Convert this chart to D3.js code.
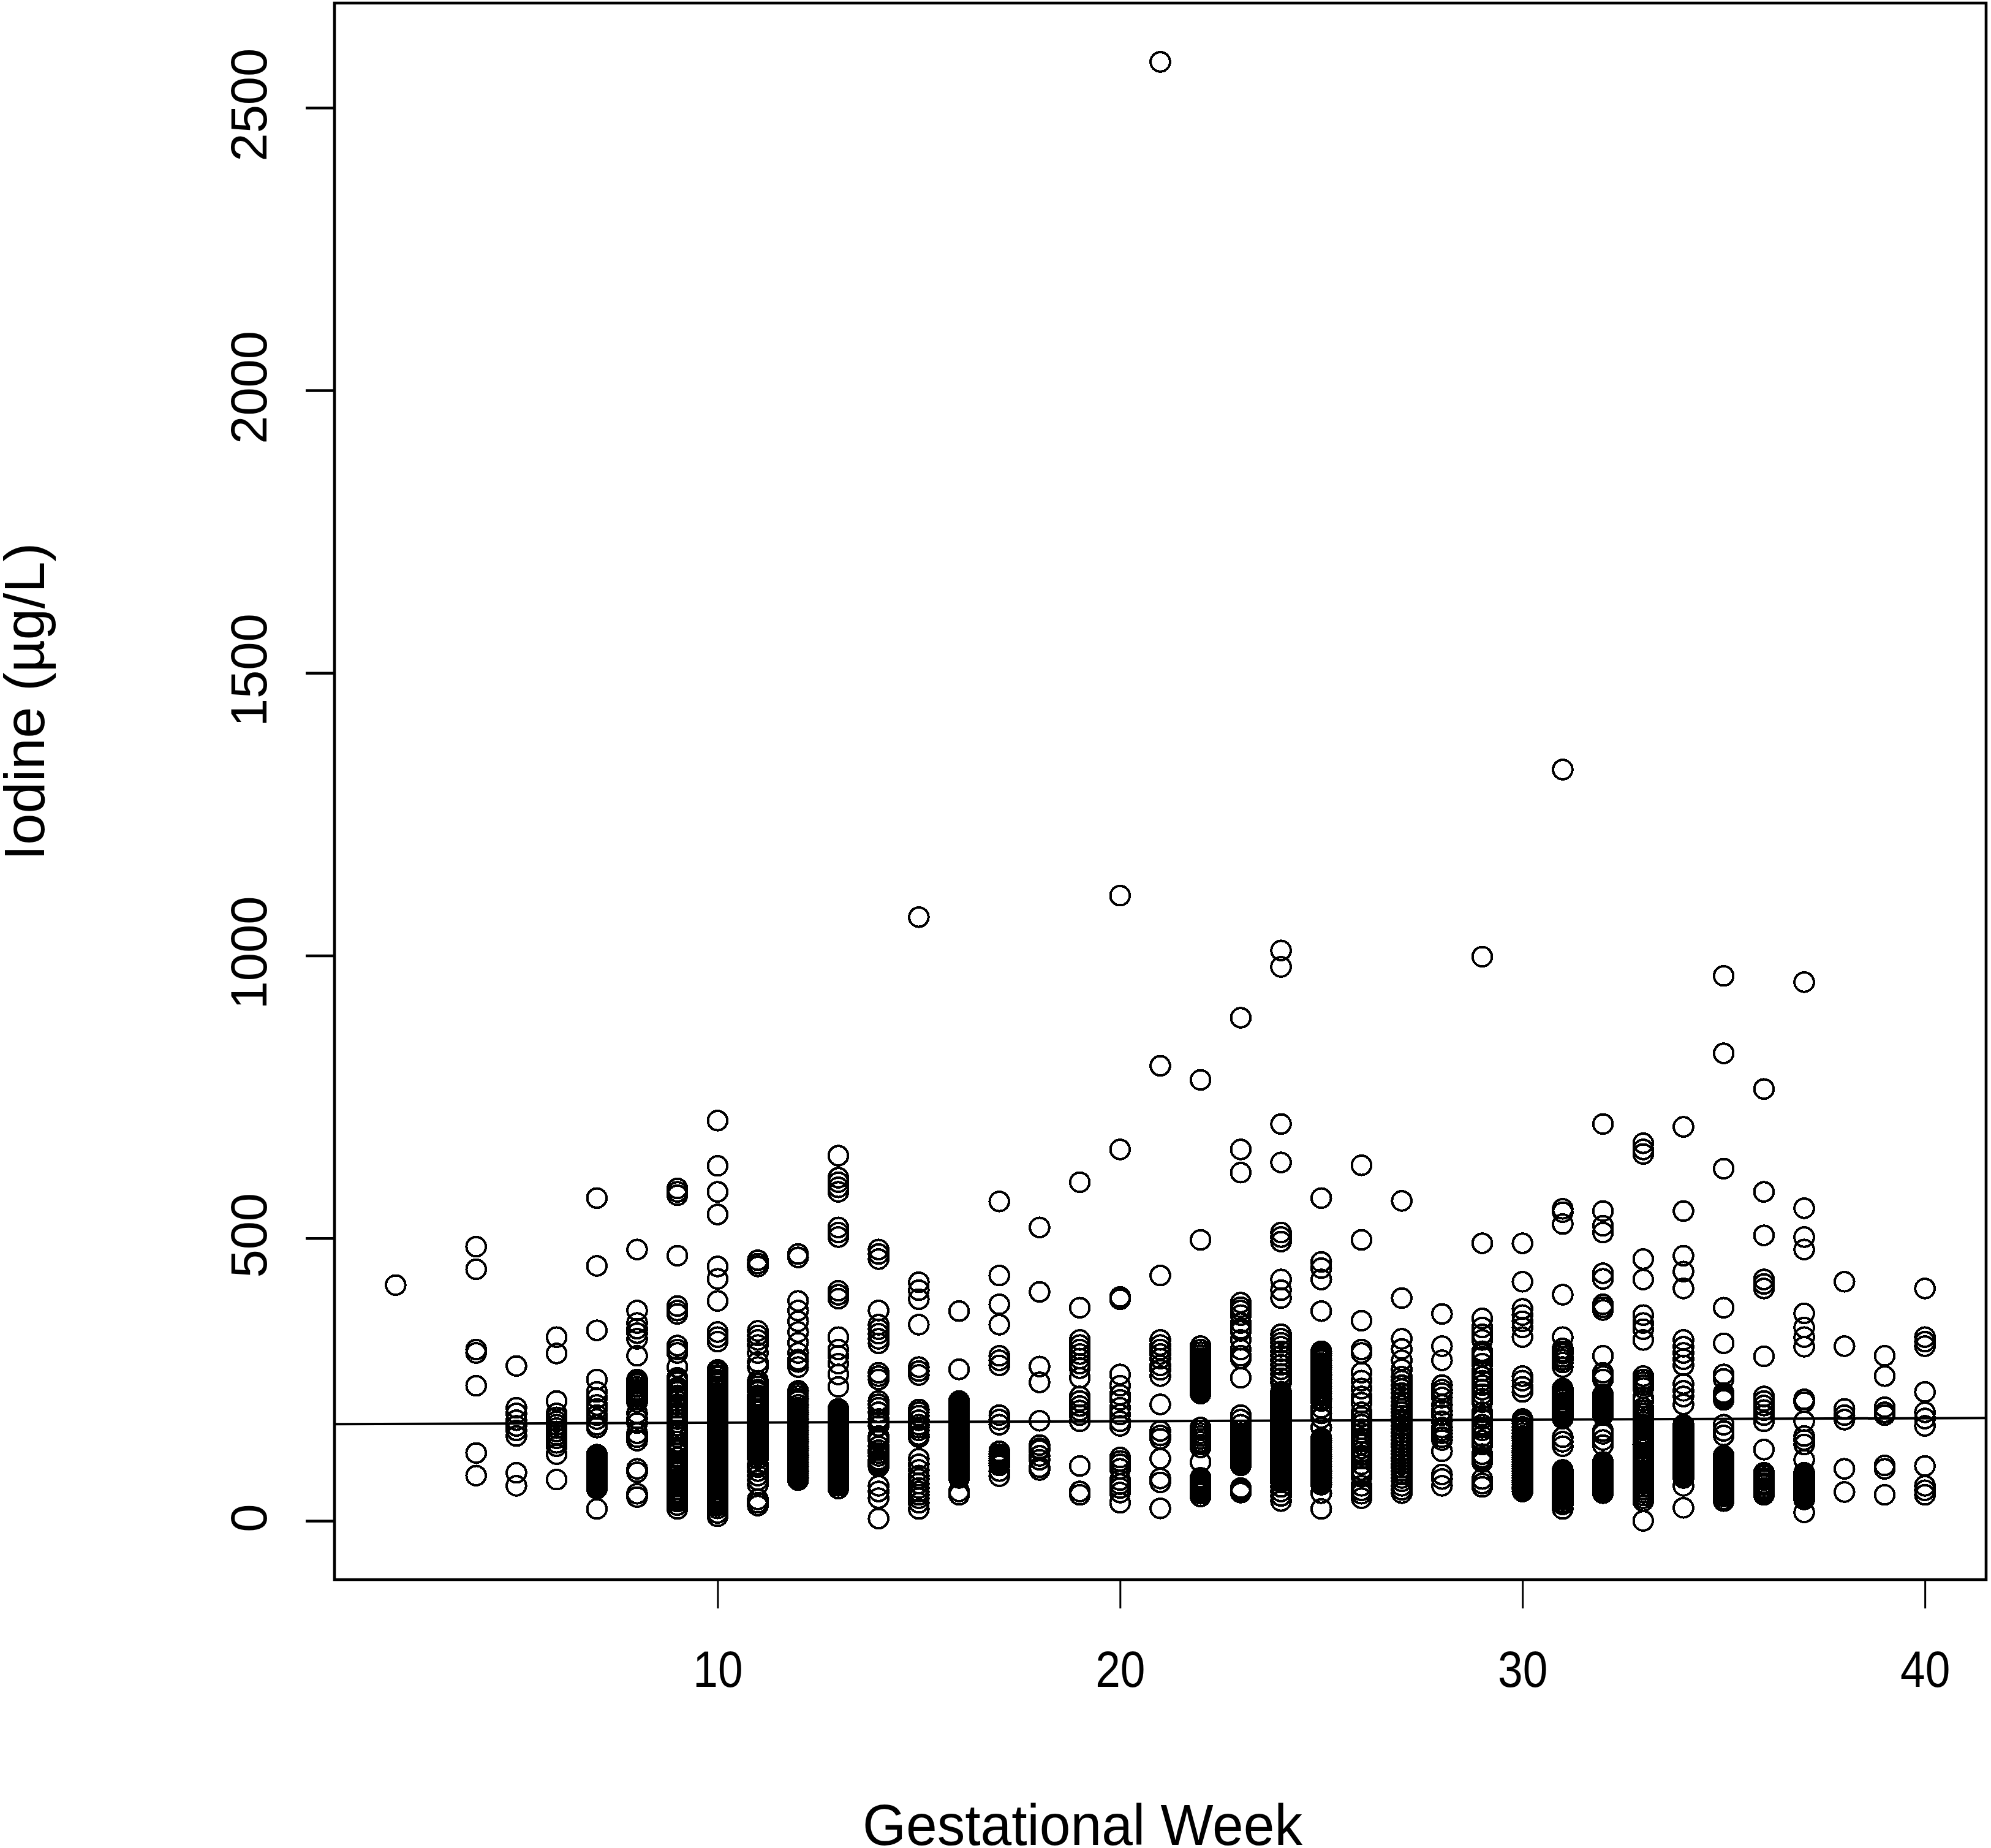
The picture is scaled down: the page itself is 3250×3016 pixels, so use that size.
<!DOCTYPE html>
<html><head><meta charset="utf-8"><script src="https://cdn.jsdelivr.net/npm/d3@7"></script>
<style>html,body{margin:0;background:#fff}svg{display:block}text{font-family:"Liberation Sans",Arial,sans-serif;fill:#000}</style></head>
<body><script>
const xTicks=[10,20,30,40];
const yTicks=[0,500,1000,1500,2000,2500];
const xTitle="Gestational Week", yTitle="Iodine (µg/L)";
const lineWeeks=[0.48,41.52], lineValues=[171,182];
const w2=[417];
const w4=[485,445,303,297,239,120,80];
const w5=[274,200,190,178,168,160,150,85,62];
const w6=[325,296,212,190,183,176,170,164,158,152,146,138,132,118,73];
const w7=[571,451,337,250,228,217,205,198,187,180,170,165,117,113,109,105,101,97,93,89,85,81,77,73,69,65,61,57,21];
const w8=[480,372,350,340,332,322,292,250,246,242,237,232,228,224,220,215,210,190,181,173,155,148,142,92,86,48,42];
const w9=[588,582,576,469,380,372,366,310,303,297,272,253,249,245,236,232,228,222,218,212,206,200,192,186,180,174,168,160,154,148,140,135,130,125,120,112,105,100,95,90,85,80,75,70,65,60,55,50,46,42,38,34,28,21];
const w10=[708,628,582,542,450,428,389,334,325,317,267,263,258,255,250,246,243,238,234,231,226,222,219,214,211,206,203,198,195,191,186,183,178,175,171,166,163,158,155,151,146,143,139,135,131,127,122,119,114,111,107,103,98,95,91,87,83,79,75,71,67,63,58,55,50,47,43,39,35,31,27,22,14,8];
const w11=[461,455,450,336,328,320,311,297,281,272,248,243,238,232,228,222,218,212,208,203,198,193,188,184,180,176,172,168,164,160,156,152,148,144,140,136,132,128,124,120,116,110,100,95,88,80,72,64,38,32,27];
const w12=[472,466,389,372,353,334,315,297,285,281,272,230,226,221,216,212,205,200,196,192,188,184,180,176,172,168,164,160,156,152,148,144,140,136,132,128,124,120,116,112,108,104,100,96,92,88,84,80,76,72];
const w13=[646,607,599,590,582,519,510,502,407,400,393,325,303,292,278,259,237,198,194,190,186,182,178,174,170,166,162,158,154,150,146,142,138,134,130,126,122,118,114,110,106,102,98,94,90,86,82,78,74,70,66,62,57];
const w14=[480,472,463,372,347,339,331,322,314,262,256,250,212,206,200,192,180,175,168,150,146,142,132,125,120,115,108,104,100,96,62,52,40,4];
const w15=[1068,422,408,392,347,272,265,258,197,192,186,178,170,165,160,152,148,110,100,90,80,74,66,58,52,46,40,32,21];
const w16=[371,268,212,208,204,200,196,192,188,184,180,176,172,168,164,160,156,152,148,144,140,136,132,128,124,120,116,112,108,104,100,96,92,88,84,80,76,52,46];
const w17=[565,434,383,347,292,284,275,187,179,170,123,118,114,110,106,102,98,88,79];
const w18=[519,405,273,245,177,134,128,125,115,108,95,90];
const w19=[599,377,320,311,303,295,287,278,270,253,220,212,203,195,187,176,97,52,46];
const w20=[1106,657,392,396,259,239,223,214,200,188,176,168,112,106,100,92,72,65,58,50,32];
const w21=[2581,805,434,320,311,303,295,287,275,267,256,206,159,151,145,110,75,68,22];
const w22=[780,497,309,303,298,293,288,284,280,276,272,268,264,260,256,252,248,244,240,236,232,228,225,165,160,155,150,145,140,135,130,104,76,72,68,64,60,56,52,48,43];
const w23=[890,657,616,386,378,372,364,350,340,336,320,303,292,287,253,187,179,170,160,155,150,146,142,138,134,130,126,122,118,114,110,106,102,98,58,54,50];
const w24=[1009,980,702,634,510,502,494,427,408,394,330,322,315,308,300,292,284,276,268,260,252,245,228,224,220,216,212,208,204,200,196,192,188,184,180,176,172,168,164,160,156,152,148,144,140,136,132,128,124,120,116,112,108,104,100,96,92,88,84,80,76,72,68,60,52,44,35];
const w25=[571,458,447,427,371,300,296,292,288,284,279,275,271,267,262,258,254,250,246,242,238,234,229,225,221,216,212,200,190,182,165,146,142,138,134,130,126,122,118,114,110,105,100,96,92,88,84,80,76,72,68,64,49,21];
const w26=[629,497,354,303,297,262,248,234,220,209,192,184,176,170,162,155,146,140,135,128,122,116,110,100,90,84,78,62,54,48,40];
const w27=[566,394,322,304,284,268,255,248,240,233,226,218,211,204,198,192,186,180,175,168,162,156,150,143,137,131,124,118,112,106,100,94,88,82,76,70,62,55,49];
const w28=[366,309,284,240,232,226,218,205,195,187,176,165,160,155,148,143,123,82,74,62];
const w29=[998,491,358,342,330,320,300,295,290,278,265,255,248,240,232,224,216,210,192,186,180,170,165,160,150,142,135,118,112,108,104,74,66,60];
const w30=[491,423,375,364,353,342,325,256,248,237,228,180,176,172,166,160,155,150,146,142,136,132,128,124,120,116,112,108,104,100,96,92,88,84,80,76,72,68,64,60,56,52];
const w31=[1329,552,546,525,400,325,305,300,296,290,285,280,272,234,230,226,222,218,214,209,205,201,197,193,189,185,181,148,140,132,90,86,82,78,74,70,66,62,58,54,50,46,42,38,33,29,21];
const w32=[702,548,522,510,438,428,383,378,373,292,262,256,250,223,219,215,211,207,203,199,195,191,187,159,154,143,134,104,100,96,92,88,84,80,76,72,68,64,60,56,52,49];
const w33=[668,657,649,463,427,364,350,339,320,256,250,245,240,235,218,212,200,195,190,185,180,175,170,165,160,155,150,145,140,135,130,120,115,110,105,100,95,90,85,80,75,70,65,60,55,50,45,40,35,0];
const w34=[697,548,469,441,411,320,308,297,286,275,242,230,220,206,170,166,162,158,154,150,146,142,138,134,130,126,122,118,114,110,106,102,98,94,90,86,82,78,76,62,23];
const w35=[964,827,623,377,314,259,251,226,222,218,214,170,159,151,115,111,107,103,99,95,91,87,83,79,75,71,67,63,59,55,51,47,43,38,35];
const w36=[764,582,505,427,419,411,291,220,212,204,196,187,176,126,85,81,76,72,67,63,58,54,50,46];
const w37=[953,553,502,480,367,342,325,308,215,210,176,150,143,135,108,85,81,77,73,69,65,61,57,53,49,45,42,38,15];
const w38=[423,309,198,187,179,92,51];
const w39=[292,256,201,192,187,98,92,46];
const w40=[411,325,317,309,228,192,181,168,97,62,54,46];
const weeks=[[2,w2],[4,w4],[5,w5],[6,w6],[7,w7],[8,w8],[9,w9],[10,w10],[11,w11],[12,w12],[13,w13],[14,w14],[15,w15],[16,w16],[17,w17],[18,w18],[19,w19],[20,w20],[21,w21],[22,w22],[23,w23],[24,w24],[25,w25],[26,w26],[27,w27],[28,w28],[29,w29],[30,w30],[31,w31],[32,w32],[33,w33],[34,w34],[35,w35],[36,w36],[37,w37],[38,w38],[39,w39],[40,w40]];

const W=3250,H=3016,L=546,R=3242,T=5,B=2578;
const x=d3.scaleLinear().domain([0.48,41.52]).range([L,R]);
const y=d3.scaleLinear().domain([-104,2685]).range([B,T]);
const svg=d3.select("body").append("svg").attr("width",W).attr("height",H);
const pts=weeks.flatMap(([k,v])=>v.map(d=>[k,d]));
svg.append("g").selectAll("circle").data(pts).join("circle")
 .attr("cx",d=>x(d[0])).attr("cy",d=>y(d[1])).attr("r",15.8)
 .attr("fill","none").attr("stroke","#000").attr("stroke-width",4).attr("shape-rendering","crispEdges");
svg.append("path").attr("d",d3.line().x(d=>x(d[0])).y(d=>y(d[1]))(lineWeeks.map((d,i)=>[d,lineValues[i]])))
 .attr("stroke","#000").attr("stroke-width",4).attr("fill","none");
svg.append("rect").attr("x",L).attr("y",T).attr("width",R-L).attr("height",B-T).attr("fill","none").attr("stroke","#000").attr("stroke-width",4.6);
const gx=svg.append("g").attr("transform",`translate(0,${B})`).call(d3.axisBottom(x).tickValues(xTicks).tickSize(47).tickFormat(d3.format("d")));
const gy=svg.append("g").attr("transform",`translate(${L},0)`).call(d3.axisLeft(y).tickValues(yTicks).tickSize(47).tickFormat(d3.format("d")));
[gx,gy].forEach(g=>g.select(".domain").remove());
gx.selectAll("line").attr("stroke","#000").attr("stroke-width",3);
gy.selectAll("line").attr("stroke","#000").attr("stroke-width",4.5);
gx.selectAll("text").attr("font-size",83).attr("y",0).attr("dy",0).attr("transform",`translate(0,175) scale(.88,1)`);
gy.selectAll("text").attr("font-size",83).attr("x",0).attr("dy",0).attr("text-anchor","middle").attr("transform",`translate(-111,-5) rotate(-90)`);
svg.append("text").attr("transform","translate(1767,3011) scale(.97,1)").attr("text-anchor","middle").attr("font-size",94).text(xTitle);
svg.append("text").attr("transform","translate(72,1145) rotate(-90)").attr("text-anchor","middle").attr("font-size",92).text(yTitle);
</script></body></html>
